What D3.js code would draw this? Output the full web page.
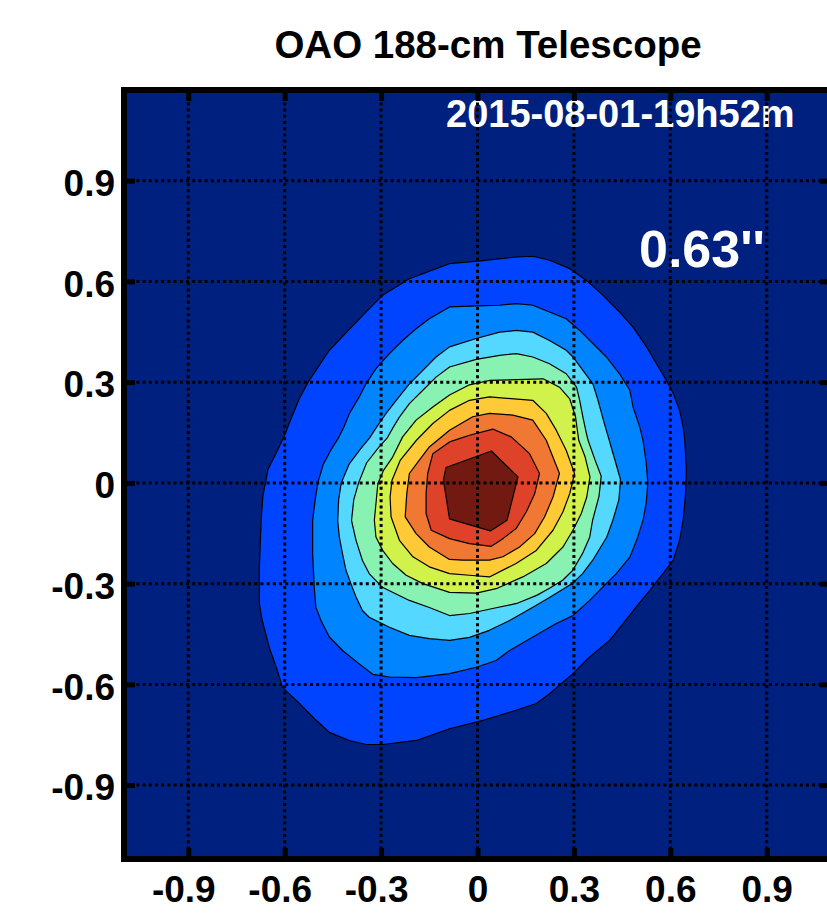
<!DOCTYPE html>
<html><head><meta charset="utf-8">
<script src="https://cdn.jsdelivr.net/npm/d3@7"></script>
<style>
body{margin:0;background:#fff}
svg{display:block}
text{font-family:"Liberation Sans",Arial,Helvetica,sans-serif;font-weight:bold}
</style>
</head><body>
<svg id="chart" width="827" height="918"></svg>
<script>
// ---------- data ----------
const titleText = "OAO 188-cm Telescope";
const dateLabel = "2015-08-01-19h52m";
const seeingLabel = "0.63''";
const xDomain = [-1.1, 1.1];
const yDomain = [-1.12, 1.17];
const xTicks = [-0.9, -0.6, -0.3, 0, 0.3, 0.6, 0.9];
const xTickLabels = ["-0.9", "-0.6", "-0.3", "0", "0.3", "0.6", "0.9"];
const yTicks = [-0.9, -0.6, -0.3, 0, 0.3, 0.6, 0.9];
const yTickLabels = ["-0.9", "-0.6", "-0.3", "0", "0.3", "0.6", "0.9"];

// filled contour boundaries (x, y in arcsec), outermost first
const contourLevel1 = [[-0.087,0.653],[0.017,0.662],[0.110,0.672],[0.172,0.675],[0.224,0.663],[0.287,0.638],[0.339,0.603],[0.390,0.559],[0.442,0.509],[0.484,0.464],[0.526,0.405],[0.557,0.355],[0.588,0.305],[0.609,0.266],[0.629,0.216],[0.640,0.166],[0.645,0.127],[0.650,0.040],[0.647,-0.040],[0.640,-0.111],[0.629,-0.171],[0.609,-0.230],[0.577,-0.270],[0.536,-0.320],[0.494,-0.369],[0.453,-0.419],[0.411,-0.469],[0.349,-0.518],[0.297,-0.568],[0.224,-0.628],[0.183,-0.657],[0.120,-0.677],[0.069,-0.692],[0.017,-0.707],[-0.087,-0.732],[-0.190,-0.767],[-0.296,-0.779],[-0.346,-0.779],[-0.399,-0.767],[-0.461,-0.743],[-0.502,-0.707],[-0.555,-0.656],[-0.607,-0.609],[-0.623,-0.558],[-0.648,-0.490],[-0.670,-0.409],[-0.679,-0.358],[-0.679,-0.260],[-0.676,-0.180],[-0.673,-0.111],[-0.668,-0.040],[-0.652,0.040],[-0.626,0.090],[-0.601,0.140],[-0.578,0.196],[-0.555,0.250],[-0.527,0.300],[-0.461,0.395],[-0.357,0.499],[-0.295,0.559],[-0.212,0.608]];
const contourLevel2 = [[-0.087,0.524],[0.000,0.527],[0.069,0.529],[0.121,0.534],[0.172,0.529],[0.224,0.509],[0.276,0.489],[0.318,0.454],[0.359,0.415],[0.401,0.375],[0.442,0.325],[0.474,0.276],[0.484,0.226],[0.505,0.166],[0.515,0.127],[0.525,0.060],[0.530,0.000],[0.525,-0.060],[0.515,-0.112],[0.495,-0.171],[0.474,-0.221],[0.432,-0.270],[0.390,-0.310],[0.349,-0.350],[0.297,-0.395],[0.245,-0.419],[0.172,-0.459],[0.100,-0.499],[0.058,-0.529],[-0.004,-0.549],[-0.087,-0.568],[-0.191,-0.580],[-0.274,-0.578],[-0.326,-0.570],[-0.368,-0.539],[-0.420,-0.499],[-0.461,-0.459],[-0.487,-0.410],[-0.503,-0.370],[-0.508,-0.310],[-0.513,-0.211],[-0.513,-0.112],[-0.505,-0.050],[-0.497,0.000],[-0.480,0.055],[-0.455,0.100],[-0.432,0.135],[-0.416,0.166],[-0.399,0.206],[-0.368,0.256],[-0.347,0.295],[-0.316,0.340],[-0.274,0.385],[-0.233,0.424],[-0.191,0.459],[-0.150,0.489]];
const contourLevel3 = [[-0.087,0.405],[-0.004,0.430],[0.069,0.449],[0.121,0.454],[0.172,0.449],[0.224,0.424],[0.276,0.395],[0.297,0.375],[0.328,0.335],[0.359,0.295],[0.375,0.246],[0.395,0.176],[0.410,0.127],[0.430,0.060],[0.445,0.010],[0.440,-0.050],[0.421,-0.112],[0.402,-0.162],[0.358,-0.231],[0.327,-0.270],[0.296,-0.299],[0.224,-0.341],[0.171,-0.371],[0.100,-0.410],[0.037,-0.439],[-0.025,-0.460],[-0.087,-0.469],[-0.150,-0.464],[-0.212,-0.454],[-0.274,-0.430],[-0.337,-0.400],[-0.358,-0.380],[-0.378,-0.340],[-0.394,-0.300],[-0.409,-0.261],[-0.420,-0.211],[-0.430,-0.161],[-0.435,-0.112],[-0.432,-0.050],[-0.424,0.000],[-0.400,0.055],[-0.365,0.100],[-0.335,0.135],[-0.314,0.166],[-0.285,0.206],[-0.253,0.246],[-0.212,0.295],[-0.170,0.335],[-0.129,0.375]];
const contourLevel4 = [[-0.087,0.345],[-0.004,0.368],[0.069,0.380],[0.121,0.385],[0.172,0.375],[0.224,0.355],[0.276,0.325],[0.308,0.285],[0.318,0.246],[0.328,0.196],[0.339,0.147],[0.344,0.127],[0.365,0.070],[0.385,0.020],[0.378,-0.040],[0.358,-0.112],[0.349,-0.162],[0.327,-0.210],[0.296,-0.261],[0.265,-0.290],[0.224,-0.314],[0.184,-0.335],[0.122,-0.359],[0.047,-0.374],[-0.025,-0.389],[-0.087,-0.395],[-0.150,-0.371],[-0.212,-0.350],[-0.296,-0.311],[-0.337,-0.270],[-0.358,-0.231],[-0.378,-0.171],[-0.392,-0.112],[-0.385,-0.050],[-0.370,0.000],[-0.345,0.060],[-0.308,0.105],[-0.280,0.135],[-0.262,0.166],[-0.243,0.196],[-0.212,0.236],[-0.170,0.276],[-0.129,0.315]];
const contourLevel5 = [[0.037,0.305],[0.204,0.310],[0.255,0.285],[0.287,0.250],[0.305,0.197],[0.315,0.127],[0.335,0.077],[0.350,0.018],[0.340,-0.042],[0.323,-0.091],[0.297,-0.141],[0.266,-0.191],[0.214,-0.240],[0.141,-0.280],[0.058,-0.315],[-0.004,-0.328],[-0.087,-0.326],[-0.170,-0.300],[-0.222,-0.275],[-0.264,-0.240],[-0.295,-0.201],[-0.316,-0.161],[-0.321,-0.111],[-0.316,-0.062],[-0.310,-0.002],[-0.292,0.038],[-0.264,0.077],[-0.233,0.137],[-0.191,0.187],[-0.139,0.226],[-0.087,0.262],[-0.025,0.292]];
const contourLevel6 = [[-0.087,0.216],[-0.025,0.246],[0.037,0.256],[0.172,0.246],[0.214,0.207],[0.245,0.157],[0.276,0.097],[0.302,0.028],[0.287,-0.032],[0.266,-0.086],[0.235,-0.141],[0.183,-0.201],[0.120,-0.240],[0.037,-0.280],[-0.025,-0.275],[-0.087,-0.270],[-0.150,-0.250],[-0.201,-0.220],[-0.243,-0.171],[-0.269,-0.101],[-0.272,-0.042],[-0.266,0.008],[-0.240,0.068],[-0.190,0.127],[-0.139,0.177]];
const contourLevel7 = [[-0.087,0.157],[-0.015,0.197],[0.037,0.207],[0.110,0.202],[0.172,0.187],[0.214,0.127],[0.255,0.028],[0.235,-0.042],[0.209,-0.101],[0.178,-0.151],[0.131,-0.191],[0.079,-0.220],[0.037,-0.230],[-0.046,-0.230],[-0.087,-0.228],[-0.150,-0.191],[-0.191,-0.151],[-0.225,-0.101],[-0.220,-0.032],[-0.212,0.028],[-0.181,0.068],[-0.150,0.107]];
const contourLevel8 = [[-0.155,0.028],[-0.139,0.087],[-0.087,0.122],[-0.025,0.142],[0.048,0.160],[0.105,0.137],[0.162,0.087],[0.193,0.028],[0.178,-0.032],[0.152,-0.086],[0.120,-0.136],[0.079,-0.166],[0.043,-0.189],[-0.025,-0.181],[-0.087,-0.166],[-0.144,-0.141],[-0.160,-0.091],[-0.160,-0.032]];
const contourLevel9 = [[-0.098,0.046],[0.043,0.095],[0.126,0.018],[0.092,-0.111],[0.040,-0.143],[-0.087,-0.107],[-0.106,0.008]];
const contourLevels = [contourLevel1, contourLevel2, contourLevel3, contourLevel4, contourLevel5, contourLevel6, contourLevel7, contourLevel8, contourLevel9];

// ---------- styles ----------
const backgroundColor = "#00207f";
const levelColors = ["#0044ff", "#0084ff", "#55d8ff", "#88f2b2", "#d0f24a", "#ffca36", "#f07832", "#de4228", "#721a12"];

// ---------- layout ----------
const svg = d3.select("#chart");
const plot = {left: 124, right: 831, top: 90, bottom: 859};
const x = d3.scaleLinear().domain(xDomain).range([plot.left, plot.right]);
const y = d3.scaleLinear().domain(yDomain).range([plot.bottom, plot.top]);

svg.append("rect").attr("width", 827).attr("height", 918).attr("fill", "#fff");

svg.append("defs").append("clipPath").attr("id", "plotClip")
  .append("rect").attr("x", plot.left).attr("y", plot.top)
  .attr("width", plot.right - plot.left).attr("height", plot.bottom - plot.top);

const g = svg.append("g").attr("clip-path", "url(#plotClip)");
g.append("rect").attr("x", plot.left).attr("y", plot.top)
  .attr("width", plot.right - plot.left).attr("height", plot.bottom - plot.top)
  .attr("fill", backgroundColor);

const line = d3.line().x(d => x(d[0])).y(d => y(d[1])).curve(d3.curveLinearClosed);
g.selectAll("path.level").data(contourLevels).join("path")
  .attr("class", "level")
  .attr("d", line)
  .attr("fill", (d, i) => levelColors[i])
  .attr("stroke", "#000").attr("stroke-width", 1.2).attr("stroke-linejoin", "round");

// annotations (white)
g.append("text").attr("x", 446).attr("y", 127).attr("fill", "#fff")
  .style("font-size", "38px").text(dateLabel);
g.append("text").attr("x", 639).attr("y", 267).attr("fill", "#fff")
  .style("font-size", "52px").text(seeingLabel);

// dotted grid
g.selectAll("line.gx").data(xTicks).join("line").attr("class", "gx")
  .attr("x1", d => x(d)).attr("x2", d => x(d)).attr("y1", plot.top).attr("y2", plot.bottom)
  .attr("stroke", "#000").attr("stroke-width", 3).attr("stroke-dasharray", "3,3.2");
g.selectAll("line.gy").data(yTicks).join("line").attr("class", "gy")
  .attr("y1", d => y(d)).attr("y2", d => y(d)).attr("x1", plot.left).attr("x2", plot.right)
  .attr("stroke", "#000").attr("stroke-width", 3).attr("stroke-dasharray", "3,3.2");

// axes
function styleAxis(sel) {
  sel.select(".domain").remove();
  sel.selectAll(".tick line").attr("stroke", "#000").attr("stroke-width", 5);
  sel.selectAll(".tick text").attr("fill", "#000").style("font-size", "37px")
    .style("font-family", '"Liberation Sans",Arial,sans-serif').style("font-weight", "bold");
}
svg.append("g").attr("transform", `translate(0,${plot.bottom})`)
  .call(d3.axisBottom(x).tickValues(xTicks).tickFormat((d, i) => xTickLabels[i]).tickSizeInner(-11).tickSizeOuter(0).tickPadding(17))
  .call(styleAxis)
  .selectAll(".tick text").attr("dx", d => d < 0 ? -5 : 0);
svg.append("g").attr("transform", `translate(0,${plot.top})`)
  .call(d3.axisTop(x).tickValues(xTicks).tickFormat("").tickSizeInner(-11).tickSizeOuter(0))
  .call(styleAxis);
svg.append("g").attr("transform", `translate(${plot.left},0)`)
  .call(d3.axisLeft(y).tickValues(yTicks).tickFormat((d, i) => yTickLabels[i]).tickSizeInner(-11).tickSizeOuter(0).tickPadding(9))
  .call(styleAxis)
  .selectAll(".tick text").attr("dy", "0.40em");
svg.append("g").attr("transform", `translate(${plot.right},0)`)
  .call(d3.axisRight(y).tickValues(yTicks).tickFormat("").tickSizeInner(-11).tickSizeOuter(0))
  .call(styleAxis);

// frame
svg.append("rect").attr("x", plot.left).attr("y", plot.top)
  .attr("width", plot.right - plot.left).attr("height", plot.bottom - plot.top)
  .attr("fill", "none").attr("stroke", "#000").attr("stroke-width", 6);

// title
svg.append("text").attr("x", 488).attr("y", 58).attr("text-anchor", "middle")
  .attr("fill", "#000").style("font-size", "38.5px").text(titleText);
</script>
</body></html>
